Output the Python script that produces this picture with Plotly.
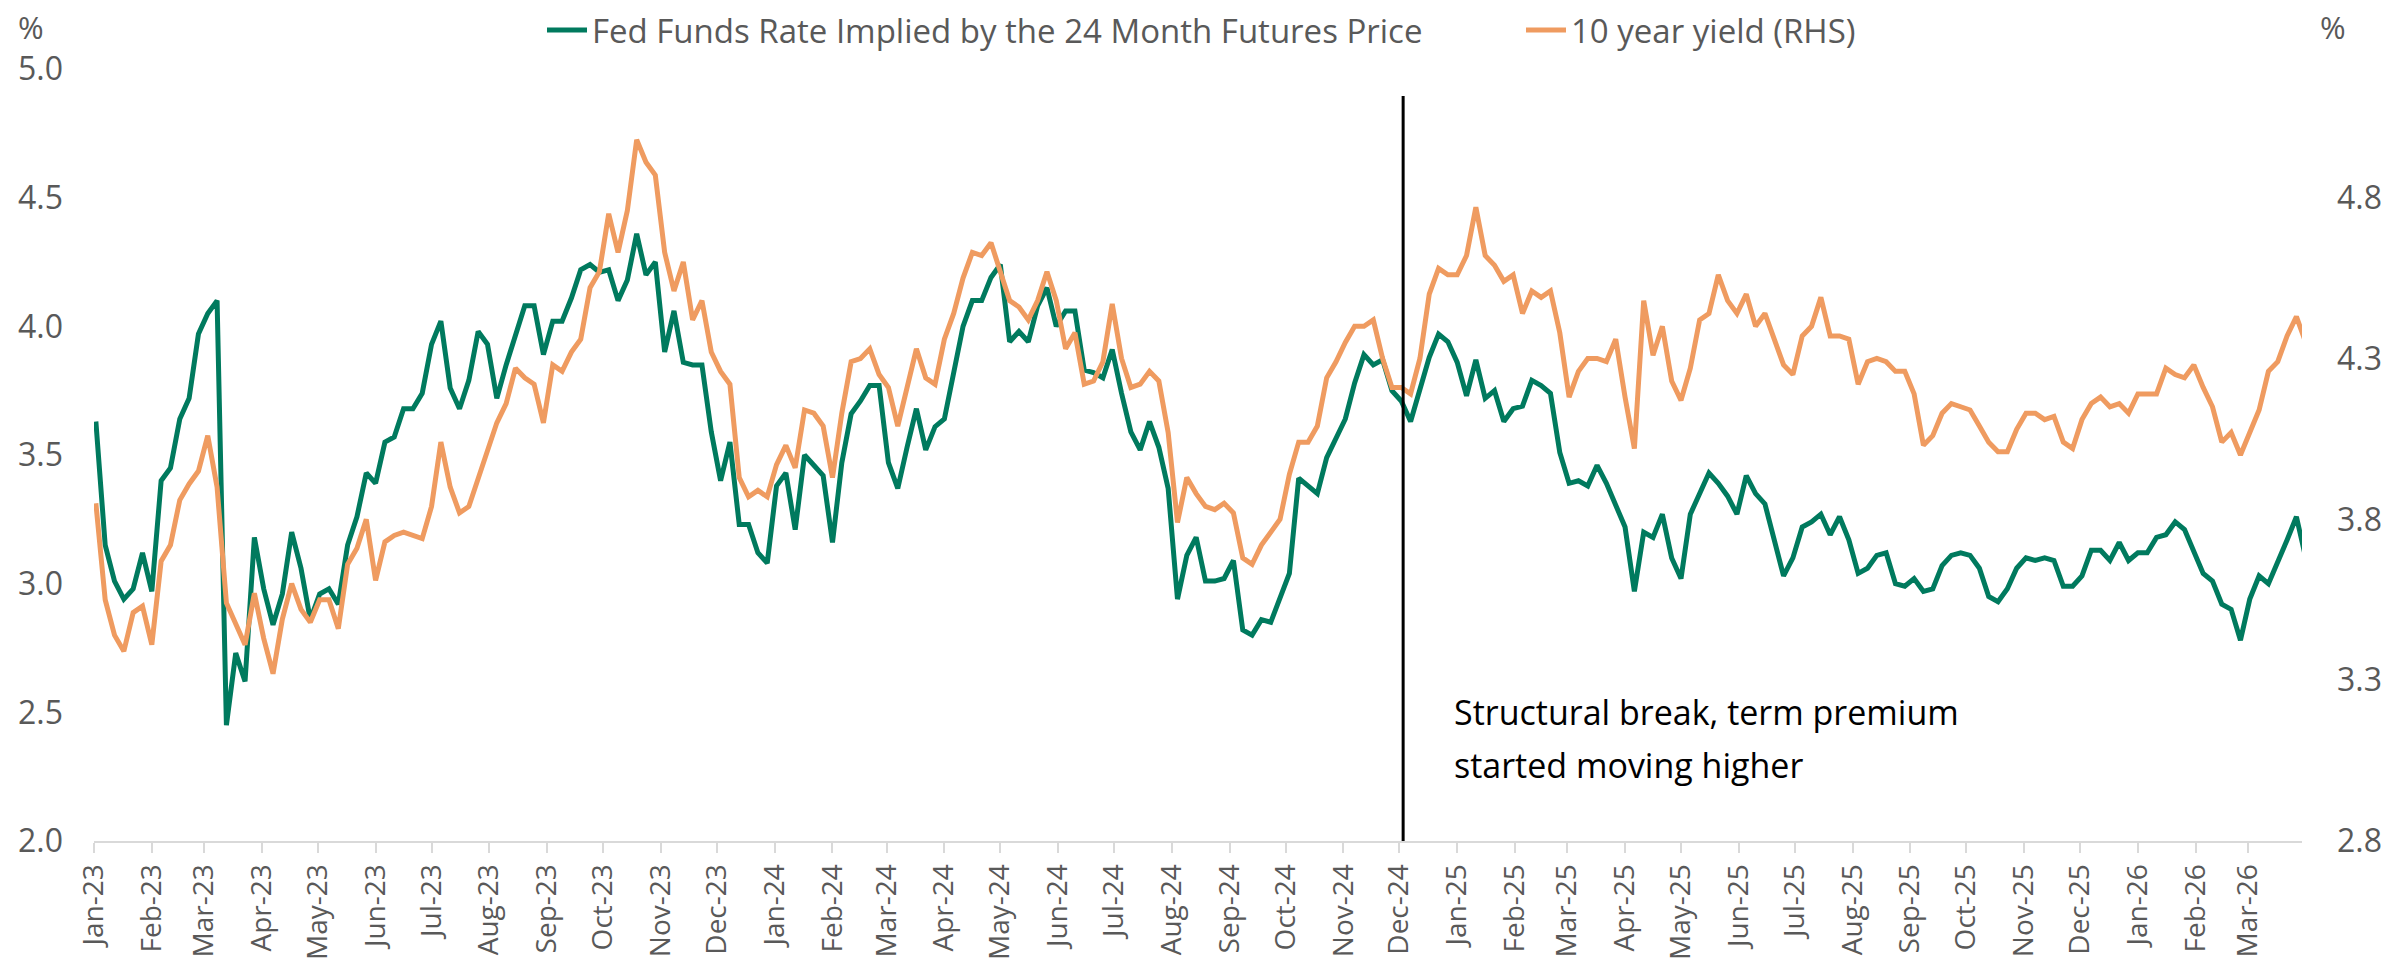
import pandas as pd
import plotly.graph_objects as go

# Sample dates: every 5 days starting 2 Jan 2023
dates = pd.date_range("2023-01-02", periods=238, freq="5D")

fed_funds_24m = [
    3.63, 3.15, 3.01, 2.94, 2.98, 3.12, 2.97, 3.40, 3.45, 3.64,
    3.72, 3.97, 4.05, 4.10, 2.45, 2.73, 2.62, 3.18, 2.98, 2.84,
    2.96, 3.20, 3.06, 2.86, 2.96, 2.98, 2.92, 3.15, 3.26, 3.43,
    3.39, 3.55, 3.57, 3.68, 3.68, 3.74, 3.93, 4.02, 3.76, 3.68,
    3.79, 3.98, 3.93, 3.72, 3.85, 3.96, 4.08, 4.08, 3.89, 4.02,
    4.02, 4.11, 4.22, 4.24, 4.21, 4.22, 4.10, 4.18, 4.36, 4.20,
    4.25, 3.90, 4.06, 3.86, 3.85, 3.85, 3.59, 3.40, 3.55, 3.23,
    3.23, 3.12, 3.08, 3.38, 3.43, 3.21, 3.50, 3.46, 3.42, 3.16,
    3.47, 3.66, 3.71, 3.77, 3.77, 3.47, 3.37, 3.53, 3.68, 3.52,
    3.61, 3.64, 3.81, 4.00, 4.10, 4.10, 4.19, 4.24, 3.94, 3.98,
    3.94, 4.08, 4.15, 4.00, 4.06, 4.06, 3.83, 3.82, 3.80, 3.91,
    3.74, 3.59, 3.52, 3.63, 3.53, 3.37, 2.94, 3.11, 3.18, 3.01,
    3.01, 3.02, 3.09, 2.82, 2.80, 2.86, 2.85, 2.94, 3.04, 3.41,
    3.38, 3.35, 3.49, 3.57, 3.64, 3.78, 3.89, 3.85, 3.87, 3.75,
    3.71, 3.63, 3.75, 3.88, 3.97, 3.94, 3.86, 3.73, 3.87, 3.72,
    3.75, 3.63, 3.68, 3.69, 3.79, 3.77, 3.74, 3.51, 3.39, 3.40,
    3.38, 3.46, 3.39, 3.31, 3.22, 2.97, 3.20, 3.18, 3.27, 3.10,
    3.02, 3.27, 3.35, 3.43, 3.39, 3.34, 3.27, 3.42, 3.35, 3.31,
    3.17, 3.03, 3.10, 3.22, 3.24, 3.27, 3.19, 3.26, 3.17, 3.04,
    3.06, 3.11, 3.12, 3.00, 2.99, 3.02, 2.97, 2.98, 3.07, 3.11,
    3.12, 3.11, 3.06, 2.95, 2.93, 2.98, 3.06, 3.10, 3.09, 3.10,
    3.09, 2.99, 2.99, 3.03, 3.13, 3.13, 3.09, 3.16, 3.09, 3.12,
    3.12, 3.18, 3.19, 3.24, 3.21, 3.13, 3.04, 3.01, 2.92, 2.90,
    2.78, 2.94, 3.03, 3.00, 3.08, 3.17, 3.26, 3.10,
]

ten_year_yield = [
    3.85, 3.55, 3.44, 3.39, 3.51, 3.53, 3.41, 3.67, 3.72, 3.86,
    3.91, 3.95, 4.06, 3.90, 3.54, 3.47, 3.41, 3.57, 3.43, 3.32,
    3.49, 3.60, 3.52, 3.48, 3.55, 3.55, 3.46, 3.66, 3.71, 3.80,
    3.61, 3.73, 3.75, 3.76, 3.75, 3.74, 3.84, 4.04, 3.90, 3.82,
    3.84, 3.93, 4.01, 4.10, 4.16, 4.27, 4.24, 4.22, 4.10, 4.28,
    4.26, 4.32, 4.36, 4.52, 4.57, 4.75, 4.63, 4.76, 4.98, 4.91,
    4.87, 4.63, 4.51, 4.60, 4.42, 4.48, 4.32, 4.26, 4.22, 3.93,
    3.87, 3.89, 3.87, 3.97, 4.03, 3.96, 4.14, 4.13, 4.09, 3.93,
    4.13, 4.29, 4.30, 4.33, 4.25, 4.21, 4.09, 4.21, 4.33, 4.24,
    4.22, 4.36, 4.44, 4.55, 4.63, 4.62, 4.66, 4.57, 4.48, 4.46,
    4.42, 4.48, 4.57, 4.48, 4.33, 4.38, 4.22, 4.23, 4.29, 4.47,
    4.30, 4.21, 4.22, 4.26, 4.23, 4.07, 3.79, 3.93, 3.88, 3.84,
    3.83, 3.85, 3.82, 3.68, 3.66, 3.72, 3.76, 3.80, 3.94, 4.04,
    4.04, 4.09, 4.24, 4.29, 4.35, 4.40, 4.40, 4.42, 4.30, 4.21,
    4.21, 4.19, 4.30, 4.50, 4.58, 4.56, 4.56, 4.62, 4.77, 4.62,
    4.59, 4.54, 4.56, 4.44, 4.51, 4.49, 4.51, 4.38, 4.18, 4.26,
    4.30, 4.30, 4.29, 4.36, 4.18, 4.02, 4.48, 4.31, 4.40, 4.23,
    4.17, 4.27, 4.42, 4.44, 4.56, 4.48, 4.44, 4.50, 4.40, 4.44,
    4.36, 4.28, 4.25, 4.37, 4.40, 4.49, 4.37, 4.37, 4.36, 4.22,
    4.29, 4.30, 4.29, 4.26, 4.26, 4.19, 4.03, 4.06, 4.13, 4.16,
    4.15, 4.14, 4.09, 4.04, 4.01, 4.01, 4.08, 4.13, 4.13, 4.11,
    4.12, 4.04, 4.02, 4.11, 4.16, 4.18, 4.15, 4.16, 4.13, 4.19,
    4.19, 4.19, 4.27, 4.25, 4.24, 4.28, 4.21, 4.15, 4.04, 4.07,
    4.00, 4.07, 4.14, 4.26, 4.29, 4.37, 4.43, 4.35,
]

series_names = ["Fed Funds Rate Implied by the 24 Month Futures Price", "10 year yield (RHS)"]
series_colors = ["#007A5E", "#EF9B60"]
break_date = "2024-12-03"
note_lines = ["Structural break, term premium", "started moving higher"]

GREY = "#595959"
FONT = "Open Sans"

fig = go.Figure()
fig.add_trace(go.Scatter(x=dates, y=fed_funds_24m, name=series_names[0], mode="lines",
                         line=dict(color=series_colors[0], width=5), yaxis="y"))
fig.add_trace(go.Scatter(x=dates, y=ten_year_yield, name=series_names[1], mode="lines",
                         line=dict(color=series_colors[1], width=5), yaxis="y2"))

fig.add_shape(type="line", xref="x", yref="y", x0=break_date, x1=break_date,
              y0=2.0, y1=4.895, line=dict(color="black", width=3))

fig.add_annotation(x="2024-12-29", y=2.50, xref="x", yref="y", text=note_lines[0],
                   showarrow=False, xanchor="left", yanchor="middle",
                   font=dict(family=FONT, size=34, color="black"))
fig.add_annotation(x="2024-12-29", y=2.295, xref="x", yref="y", text=note_lines[1],
                   showarrow=False, xanchor="left", yanchor="middle",
                   font=dict(family=FONT, size=34, color="black"))

fig.add_annotation(x=-0.0285, y=1.054, xref="paper", yref="paper", text="%",
                   showarrow=False, xanchor="center", yanchor="middle",
                   font=dict(family=FONT, size=31, color=GREY))
fig.add_annotation(x=1.014, y=1.054, xref="paper", yref="paper", text="%",
                   showarrow=False, xanchor="center", yanchor="middle",
                   font=dict(family=FONT, size=31, color=GREY))

fig.update_layout(
    width=2386, height=980,
    margin=dict(l=94, r=84, t=69, b=139, autoexpand=False),
    paper_bgcolor="white", plot_bgcolor="white",
    font=dict(family=FONT, color=GREY),
    showlegend=True,
    legend=dict(orientation="h", xref="container", yref="container",
                x=542 / 2386, y=1 - 30 / 980, xanchor="left", yanchor="middle",
                font=dict(family=FONT, size=33, color=GREY),
                entrywidth=924, entrywidthmode="pixels",
                itemwidth=40, tracegroupgap=0, bgcolor="rgba(0,0,0,0)"),
    xaxis=dict(type="date", range=["2023-01-01", "2026-03-30"],
               tick0="2023-01-01", dtick="M1", tickformat="%b-%y",
               tickangle=-90, ticks="outside", ticklen=10, tickwidth=2,
               tickcolor="#D9D9D9", showline=True, linecolor="#D9D9D9", linewidth=2,
               showgrid=False, zeroline=False,
               tickfont=dict(family=FONT, size=28, color=GREY)),
    yaxis=dict(range=[2.0, 5.0], dtick=0.5, tick0=2.0, tickformat=".1f",
               showgrid=False, zeroline=False, showline=False, ticks="",
               ticklabelstandoff=30,
               tickfont=dict(family=FONT, size=32, color=GREY)),
    yaxis2=dict(range=[2.8, 5.2], dtick=0.5, tick0=2.8, tickformat=".1f",
                overlaying="y", side="right",
                showgrid=False, zeroline=False, showline=False, ticks="",
                ticklabelstandoff=34,
                tickfont=dict(family=FONT, size=32, color=GREY)),
)

fig.write_html("out.html", config={"displayModeBar": False},
               post_script="document.body.style.margin='0';")
